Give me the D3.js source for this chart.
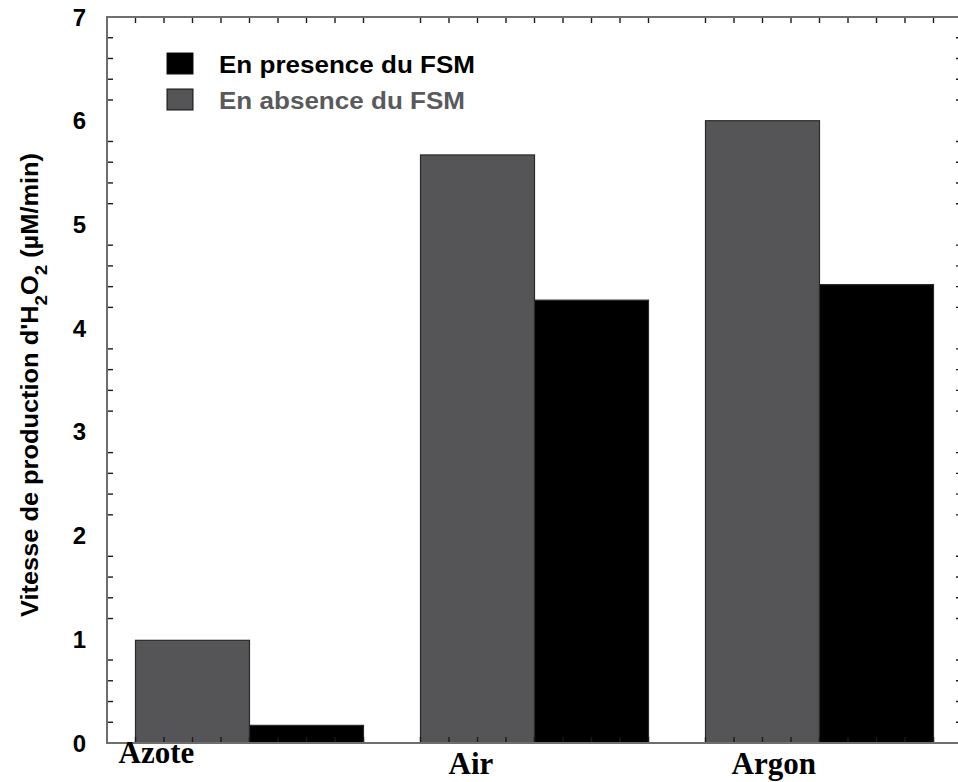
<!DOCTYPE html>
<html><head><meta charset="utf-8">
<script src="https://cdn.jsdelivr.net/npm/d3@7"></script>
<style>html,body{margin:0;padding:0;background:#fff;}</style>
</head><body>
<svg id="chart" width="958" height="782"></svg>
<script>
// ---- data ----
const categories = ["Azote", "Air", "Argon"];
const seriesNames = ["En absence du FSM", "En presence du FSM"];
const absenceValues = [0.99, 5.67, 6.0];
const presenceValues = [0.17, 4.27, 4.42];
const yTickLabels = ["0", "1", "2", "3", "4", "5", "6", "7"];
const legendOrder = ["En presence du FSM", "En absence du FSM"];

// ---- layout ----
const pLeft = 107, pRight = 962, pTop = 17, pBottom = 743;
const colors = {"En absence du FSM": "#555557", "En presence du FSM": "#000000"};
const textColors = {"En absence du FSM": "#5a5a5c", "En presence du FSM": "#000000"};
const labelShift = {"Azote": {dx: -17, y: 763}, "Air": {dx: 28, y: 774}, "Argon": {dx: 26, y: 774}};

const svg = d3.select("#chart");

const x = d3.scaleBand().domain(categories).range([pLeft, pRight]).paddingInner(0.2).paddingOuter(0.1);
const xs = d3.scaleBand().domain(seriesNames).range([0, x.bandwidth()]);
const y = d3.scaleLinear().domain([0, 7]).range([pBottom, pTop]);
const xMinor = d3.scaleLinear().domain([0, 30]).range([pLeft, pRight]);

const rows = categories.map((c, i) => ({cat: c, vals: [
  {s: seriesNames[0], v: absenceValues[i]},
  {s: seriesNames[1], v: presenceValues[i]}]}));

// bars
const g = svg.append("g");
g.selectAll("g.grp").data(rows).enter().append("g")
  .attr("transform", d => `translate(${x(d.cat)},0)`)
  .selectAll("rect").data(d => d.vals).enter().append("rect")
  .attr("x", d => xs(d.s))
  .attr("y", d => y(d.v))
  .attr("width", xs.bandwidth())
  .attr("height", d => y(0) - y(d.v))
  .attr("fill", d => colors[d.s])
  .attr("stroke", "#2a2a2a")
  .attr("stroke-width", 1.2);

// minor ticks
const yMinor = d3.range(0, 35).filter(i => i % 5 !== 0).map(i => i / 5);
const xMinorVals = d3.range(1, 30).filter(v => v % 10 !== 0);
const tickG = svg.append("g").attr("stroke", "#1a1a1a").attr("stroke-width", 1.4);
tickG.selectAll("line.yl").data(yMinor).enter().append("line")
  .attr("x1", pLeft).attr("x2", pLeft + 6).attr("y1", d => y(d)).attr("y2", d => y(d));
tickG.selectAll("line.yr").data(yMinor).enter().append("line")
  .attr("x1", pRight).attr("x2", pRight - 6).attr("y1", d => y(d)).attr("y2", d => y(d));
tickG.selectAll("line.xt").data(xMinorVals).enter().append("line")
  .attr("x1", d => xMinor(d)).attr("x2", d => xMinor(d)).attr("y1", pTop).attr("y2", pTop + 6);
tickG.selectAll("line.xb").data(xMinorVals).enter().append("line")
  .attr("x1", d => xMinor(d)).attr("x2", d => xMinor(d)).attr("y1", pBottom).attr("y2", pBottom - 6);

// frame
svg.append("rect").attr("x", pLeft).attr("y", pTop).attr("width", pRight - pLeft).attr("height", pBottom - pTop)
  .attr("fill", "none").attr("stroke", "#6e6e6e").attr("stroke-width", 2);

// y tick labels
svg.append("g").selectAll("text").data(yTickLabels).enter().append("text")
  .attr("x", 86).attr("y", d => y(+d)).attr("dy", "0.36em")
  .attr("text-anchor", "end")
  .style("font-family", "Liberation Sans, Arial, sans-serif").style("font-weight", "bold").style("font-size", "24px")
  .attr("fill", "#000").text(d => d);

// x category labels
svg.append("g").selectAll("text").data(categories).enter().append("text")
  .attr("x", d => x(d) + labelShift[d].dx).attr("y", d => labelShift[d].y)
  .attr("text-anchor", "start")
  .style("font-family", "Liberation Serif, Times New Roman, serif").style("font-weight", "bold").style("font-size", "31px")
  .attr("fill", "#000").text(d => d);

// y axis title
const yt = svg.append("text")
  .attr("transform", "translate(38,617) rotate(-90)")
  .attr("text-anchor", "start")
  .attr("textLength", 464).attr("lengthAdjust", "spacingAndGlyphs")
  .style("font-family", "Liberation Sans, Arial, sans-serif").style("font-weight", "bold").style("font-size", "23px")
  .attr("fill", "#000");
yt.append("tspan").text("Vitesse de production d'H");
yt.append("tspan").attr("dy", 9).style("font-size", "17px").text("2");
yt.append("tspan").attr("dy", -9).text("O");
yt.append("tspan").attr("dy", 9).style("font-size", "17px").text("2");
yt.append("tspan").attr("dy", -9).text(" (µM/min)");

// legend
const lg = svg.append("g");
legendOrder.forEach((s, i) => {
  const yy = 53 + i * 36;
  lg.append("rect").attr("x", 167).attr("y", yy).attr("width", 26).attr("height", 21)
    .attr("fill", colors[s]).attr("stroke", "#111").attr("stroke-width", 1);
  lg.append("text").attr("x", 219).attr("y", yy + 20)
    .style("font-family", "Liberation Sans, Arial, sans-serif").style("font-weight", "bold").style("font-size", "23px")
    .attr("textLength", i === 0 ? 256 : 246).attr("lengthAdjust", "spacingAndGlyphs")
    .attr("fill", textColors[s]).text(s);
});
</script>
</body></html>
